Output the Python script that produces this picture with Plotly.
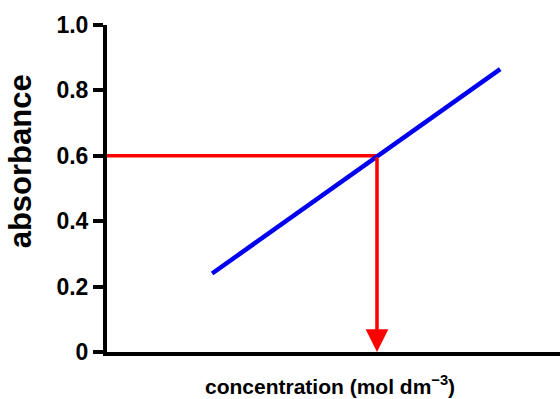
import plotly.graph_objects as go

# Calibration line: concentration vs absorbance
conc = [0.232, 0.868]
absorbance = [0.24, 0.865]

# Reading taken from the calibration line
reading_abs = 0.6
reading_conc = 0.596

y_tick_vals = [0, 0.2, 0.4, 0.6, 0.8, 1.0]
y_tick_text = ["0", "0.2", "0.4", "0.6", "0.8", "1.0"]

FONT = "Liberation Sans, Arial, sans-serif"

fig = go.Figure()

# Horizontal read-across from the absorbance axis to the line
fig.add_trace(go.Scatter(
    x=[0, reading_conc], y=[reading_abs, reading_abs],
    mode="lines", line=dict(color="#ff0000", width=3.5),
    hoverinfo="skip", showlegend=False, cliponaxis=False,
))

# Calibration line
fig.add_trace(go.Scatter(
    x=conc, y=absorbance,
    mode="lines", line=dict(color="#0000ee", width=4.5),
    showlegend=False,
))

# Vertical drop from the line down to the concentration axis
fig.add_annotation(
    x=reading_conc, y=0.0, xref="x", yref="y",
    ax=reading_conc, ay=reading_abs, axref="x", ayref="y",
    showarrow=True, arrowhead=2, arrowsize=1.3, arrowwidth=3.5,
    arrowcolor="#ff0000", text="", standoff=0,
)

# Axis titles
fig.add_annotation(
    text="absorbance", textangle=-90,
    xref="paper", yref="paper", x=(20 - 107) / 453, y=0.583,
    xanchor="center", yanchor="middle", showarrow=False,
    font=dict(family=FONT, size=31, color="black", weight="bold"),
)
fig.add_annotation(
    text="concentration (mol dm<sup>−3</sup>)",
    xref="paper", yref="paper", x=0.492, y=-0.101,
    xanchor="center", yanchor="middle", showarrow=False,
    font=dict(family=FONT, size=21, color="black", weight="bold"),
)

fig.update_layout(
    width=560, height=399,
    margin=dict(l=107, r=0, t=25, b=47),
    paper_bgcolor="white", plot_bgcolor="white",
    xaxis=dict(
        range=[0, 1], showgrid=False, zeroline=False,
        showline=True, linecolor="black", linewidth=4,
        showticklabels=False, ticks="",
    ),
    yaxis=dict(
        range=[0, 1], showgrid=False, zeroline=False,
        showline=True, linecolor="black", linewidth=4,
        tickvals=y_tick_vals, ticktext=y_tick_text,
        ticks="outside", ticklen=10, tickwidth=3.5, tickcolor="black",
        tickfont=dict(family=FONT, size=23, color="black", weight="bold"),
    ),
)

fig.write_html("out.html")
